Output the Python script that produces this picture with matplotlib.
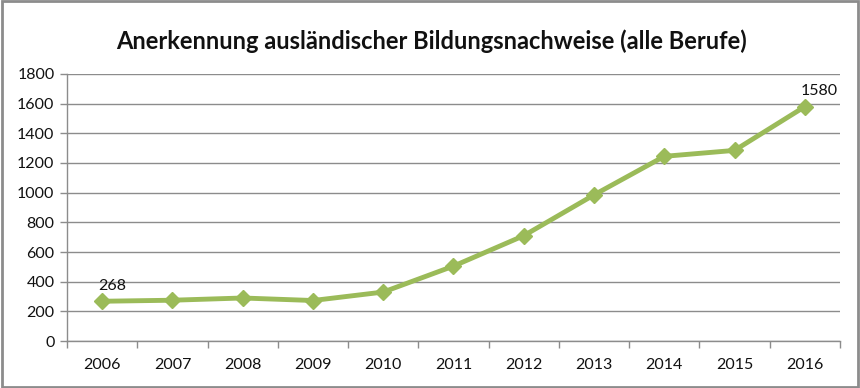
import numpy as np
import matplotlib.pyplot as plt
from matplotlib.patches import Rectangle

plt.rcParams['font.family'] = ['Lato', 'DejaVu Sans']

years = ['2006', '2007', '2008', '2009', '2010', '2011', '2012', '2013', '2014', '2015', '2016']
values = [268, 275, 290, 273, 330, 505, 710, 985, 1245, 1285, 1580]
label_idx = [0, 10]

green = '#9BBB59'
grey = '#8c8c8c'

fig = plt.figure(figsize=(8.6, 3.88), dpi=100)
ax = fig.add_axes([0.0779, 0.1211, 0.8988, 0.6882])

x = np.arange(len(years))
ax.plot(x, values, color=green, lw=3.5, marker='D', ms=8, mec=green, mfc=green, zorder=3)

for i in label_idx:
    ax.annotate(str(values[i]), (x[i], values[i]), xytext=(-3, 6), textcoords='offset points',
                ha='left', va='bottom', fontsize=11.5, color='#111111')

ax.set_xlim(-0.5, len(years) - 0.5)
ax.set_ylim(0, 1800)
ax.set_yticks(np.arange(0, 1801, 200))
ax.set_xticks(x)
ax.set_xticklabels(years)
ax.set_xticks(np.arange(-0.5, len(years), 1), minor=True)
ax.tick_params(axis='x', which='major', length=0, pad=12, labelsize=11.5, labelcolor='#111111')
ax.tick_params(axis='x', which='minor', length=5, color=grey, width=1)
ax.tick_params(axis='y', length=5, color=grey, width=1, labelsize=11.5, labelcolor='#111111', pad=4)

ax.grid(axis='y', color=grey, lw=1)
ax.set_axisbelow(True)
for s in ['top', 'right']:
    ax.spines[s].set_visible(False)
for s in ['left', 'bottom']:
    ax.spines[s].set_color(grey)
    ax.spines[s].set_linewidth(1)

fig.text(0.502, 0.895, 'Anerkennung ausländischer Bildungsnachweise (alle Berufe)',
         ha='center', va='center', fontsize=17, fontweight='bold', color='#111111')

fig.patches.append(Rectangle((0.002, 0.003), 0.996, 0.994, transform=fig.transFigure,
                             fill=False, ec=grey, lw=2))

fig.savefig('out.png', dpi=100)
